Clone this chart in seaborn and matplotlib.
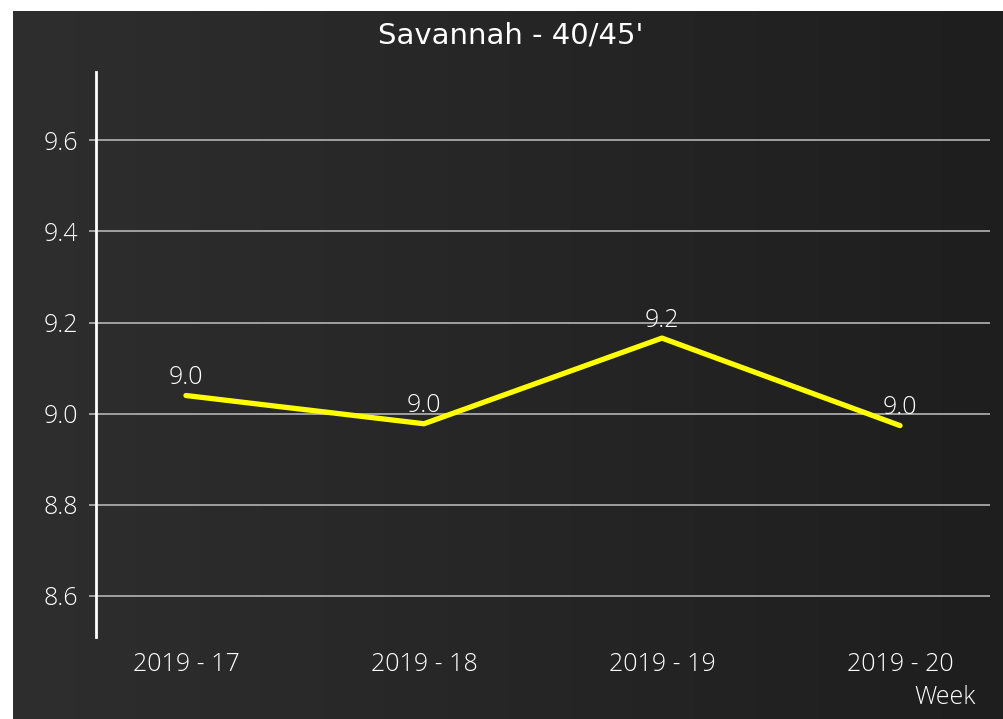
import numpy as np
import pandas as pd
import matplotlib
matplotlib.use("Agg")
import matplotlib.pyplot as plt
import seaborn as sns

weeks = ["2019 - 17", "2019 - 18", "2019 - 19", "2019 - 20"]
values = [9.04, 8.978, 9.166, 8.974]
labels = ["9.0", "9.0", "9.2", "9.0"]
yticks = [8.6, 8.8, 9.0, 9.2, 9.4, 9.6]

df = pd.DataFrame({"week": weeks, "value": values})

sns.set_style("dark")
plt.rcParams["font.family"] = ["Open Sans", "DejaVu Sans"]
plt.rcParams["font.weight"] = "light"

fig = plt.figure(figsize=(10.04, 7.19), dpi=100)
fig.patch.set_facecolor("white")

# dark gradient background panel
bg = fig.add_axes([13 / 1004, 0, 1 - 13 / 1004, 708 / 719])
grad = np.linspace(0, 1, 256).reshape(1, -1)
cmap = matplotlib.colors.LinearSegmentedColormap.from_list("bg", ["#2e2e2e", "#1e1e1e"])
bg.imshow(grad, aspect="auto", cmap=cmap, extent=[0, 1, 0, 1])
bg.set_axis_off()

ax = fig.add_axes([96 / 1004, (719 - 637) / 719, (990 - 96) / 1004, (637 - 72) / 719])
ax.set_facecolor("none")
sns.lineplot(data=df, x="week", y="value", ax=ax, color="#ffff00", linewidth=3.8, sort=False)

ax.set_xlim(-0.378, 3.378)
ax.set_ylim(8.51, 9.75)
ax.set_yticks(yticks)
ax.set_yticklabels([f"{t:.1f}" for t in yticks])
ax.grid(axis="y", color="#b4b4b4", linewidth=1.2)
ax.grid(axis="x", visible=False)
ax.set_axisbelow(True)

for s in ["top", "right", "bottom"]:
    ax.spines[s].set_visible(False)
ax.spines["left"].set_color("white")
ax.spines["left"].set_linewidth(2)

ax.tick_params(axis="y", colors="#b4b4b4", labelcolor="white", labelsize=18, length=5, width=1.2, pad=8, left=True)
ax.tick_params(axis="x", labelcolor="white", labelsize=18, length=0, pad=11)

for i, (v, lab) in enumerate(zip(values, labels)):
    ax.annotate(lab, (i, v), xytext=(0, 4), textcoords="offset points",
                ha="center", va="bottom", color="white", fontsize=18)

ax.set_xlabel("")
ax.set_ylabel("")
fig.text(945 / 1004, 1 - 698 / 719, "Week", color="white", fontsize=18, ha="center", va="center")
fig.text(511 / 1004, 1 - 35 / 719, "Savannah - 40/45'", color="white", fontsize=21,
         family="DejaVu Sans", fontweight="normal", ha="center", va="center")

fig.savefig("out.png", dpi=100, facecolor=fig.get_facecolor())
